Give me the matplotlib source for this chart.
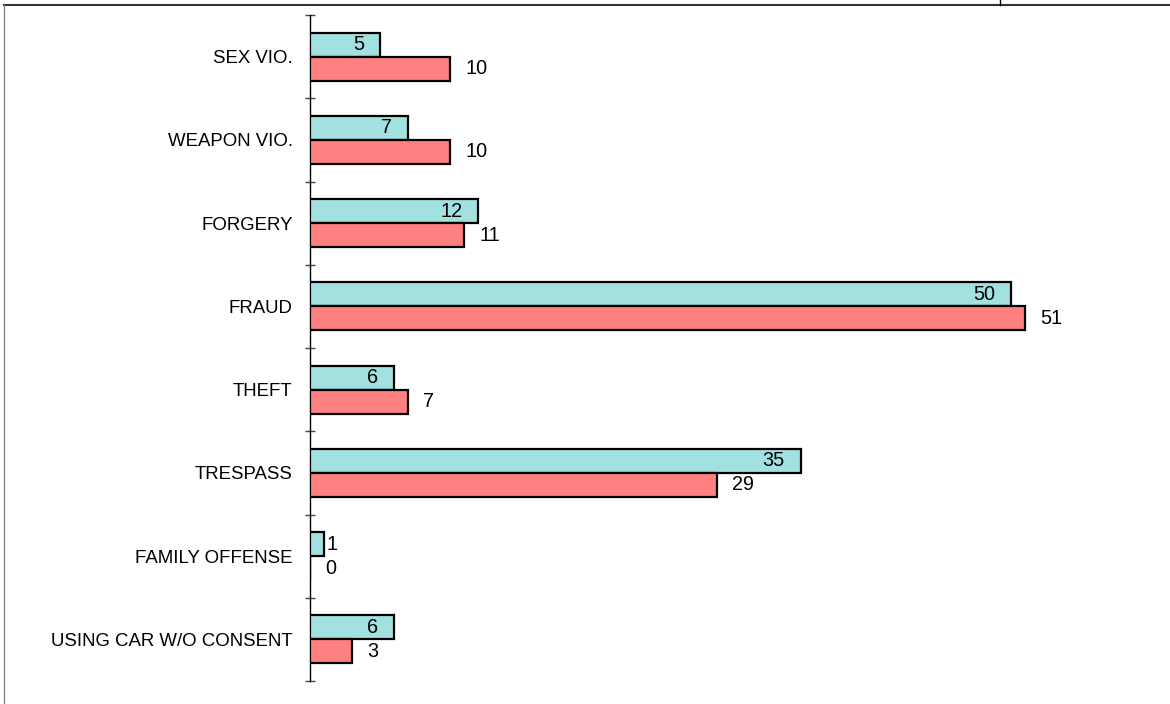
import matplotlib
matplotlib.use("Agg")
import matplotlib.pyplot as plt
from matplotlib.lines import Line2D
import numpy as np

categories = ["SEX VIO.", "WEAPON VIO.", "FORGERY", "FRAUD", "THEFT",
              "TRESPASS", "FAMILY OFFENSE", "USING CAR W/O CONSENT"]
series_a = [5, 7, 12, 50, 6, 35, 1, 6]      # teal (upper bar)
series_b = [10, 10, 11, 51, 7, 29, 0, 3]    # salmon (lower bar)

TEAL = "#a3e0e0"
SALMON = "#ff8080"

plt.rcParams['font.family'] = ['Liberation Sans', 'DejaVu Sans']

W, H = 1170, 704
fig = plt.figure(figsize=(W / 100, H / 100), dpi=100)
fig.patch.set_facecolor("white")

ax_left, ax_right = 310, 310 + 60 * 14.02
ax_top, ax_bottom = 15, 681
ax = fig.add_axes([ax_left / W, 1 - ax_bottom / H,
                   (ax_right - ax_left) / W, (ax_bottom - ax_top) / H])

n = len(categories)
y = np.arange(n)
bh = 0.288
ax.barh(y - bh / 2, series_a, height=bh, color=TEAL, edgecolor="black",
        linewidth=1.6, zorder=3)
ax.barh(y + bh / 2, series_b, height=bh, color=SALMON, edgecolor="black",
        linewidth=1.6, zorder=3)

vfs = 14.3
for i, v in enumerate(series_a):
    if v >= 3:
        ax.annotate(str(v), (v, i - bh / 2), xytext=(-16, 0),
                    textcoords="offset pixels", ha="right", va="center",
                    fontsize=vfs, zorder=4)
    else:
        ax.annotate(str(v), (v, i - bh / 2), xytext=(2, 0),
                    textcoords="offset pixels", ha="left", va="center",
                    fontsize=vfs, zorder=4)
for i, v in enumerate(series_b):
    ax.annotate(str(v), (v, i + bh / 2), xytext=(15, 0),
                textcoords="offset pixels", ha="left", va="center",
                fontsize=vfs, zorder=4)

ax.set_xlim(0, 60)
ax.set_ylim(n - 0.5, -0.5)
for s in ["top", "right", "bottom"]:
    ax.spines[s].set_visible(False)
ax.spines["left"].set_color("black")
ax.spines["left"].set_linewidth(1.0)
ax.set_xticks([])
ax.set_yticks(y)
ax.set_yticklabels(categories, fontsize=13.4)
ax.tick_params(axis="y", which="major", length=0, pad=12.5)
ax.set_yticks(np.arange(n + 1) - 0.5, minor=True)
ax.tick_params(axis="y", which="minor", direction="inout", length=7.5,
               width=1.0, color="#444444")
ax.set_facecolor("none")

# frame lines around the panel
fig.add_artist(Line2D([4 / W, 1], [1 - 4.5 / H, 1 - 4.5 / H],
                      transform=fig.transFigure, color="#333333", lw=1.5))
fig.add_artist(Line2D([4 / W, 4 / W], [0, 1 - 4.5 / H],
                      transform=fig.transFigure, color="#888888", lw=1.0))
fig.add_artist(Line2D([1000 / W, 1000 / W], [1 - 4.5 / H, 1],
                      transform=fig.transFigure, color="black", lw=1.0))

fig.savefig("out.png", dpi=100, facecolor="white")
